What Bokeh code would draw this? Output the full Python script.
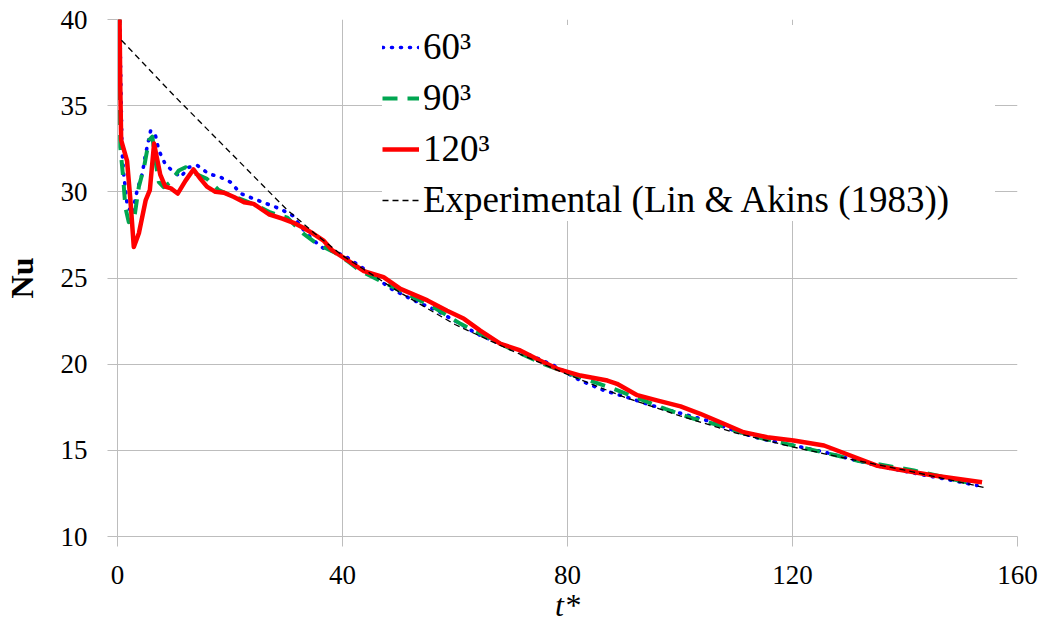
from bokeh.plotting import figure
from bokeh.models import Range1d, FixedTicker, Legend, LegendItem
from bokeh.embed import file_html
from bokeh.resources import INLINE

# ---- data ----
t_120 = [0.3, 0.5, 0.65, 1.7, 2.3, 2.9, 3.8, 5.0, 5.75, 6.5, 7.6, 8.5, 9.5, 10.7, 12.1, 13.5,
         14.75, 15.9, 17.4, 18.9, 20.7, 22.5, 24.2, 26.9, 29.3, 31.3, 33.1, 34.9, 36.7, 38.2,
         40.8, 43.8, 47.3, 50.3, 55.1, 58.6, 61.6, 64.5, 68.1, 71.6, 75.2, 78.2, 82.3, 87.1,
         88.8, 92.4, 95.9, 100.1, 103.6, 107.8, 111.3, 115.5, 120.2, 125.6, 130.3, 135.1,
         139.8, 145.1, 153.7]
nu_120 = [42.0, 36.0, 33.0, 31.8, 29.5, 26.8, 27.6, 29.5, 30.1, 32.8, 31.0, 30.3, 30.2, 29.9,
          30.65, 31.3, 30.75, 30.3, 30.0, 29.95, 29.7, 29.4, 29.3, 28.7, 28.45, 28.2, 27.9,
          27.55, 27.15, 26.6, 26.05, 25.4, 25.05, 24.37, 23.7, 23.1, 22.63, 21.95, 21.18,
          20.8, 20.2, 19.73, 19.34, 19.05, 18.86, 18.2, 17.9, 17.55, 17.12, 16.54, 16.05,
          15.76, 15.57, 15.28, 14.7, 14.1, 13.83, 13.54, 13.15]

t_60 = [0.3, 0.8, 1.1, 1.7, 2.6, 3.5, 4.4, 5.0, 5.9, 6.75, 7.35, 8.5, 9.7, 11.2, 12.7, 14.2,
        16.2, 18.3, 20.1, 21.9, 24.2, 26.6, 29.0, 31.1, 33.4, 34.9, 36.7, 38.5, 40.8, 44.4,
        48.5, 52.7, 56.8, 60.4, 63.9, 68.1, 72.8, 77.6, 82.3, 86.5, 90.6, 95.0, 99.5, 104.8,
        109.6, 114.3, 120.2, 125.6, 130.3, 136.2, 142.2, 146.9, 152.8]
nu_60 = [42.0, 32.4, 31.05, 29.3, 28.7, 30.1, 31.05, 32.2, 33.56, 33.27, 32.4, 31.6, 31.24,
         30.85, 31.43, 31.53, 31.05, 30.85, 30.56, 29.9, 29.6, 29.3, 29.0, 28.63, 27.66,
         27.17, 26.7, 26.55, 26.2, 25.4, 24.4, 23.7, 23.1, 22.44, 21.76, 21.18, 20.6, 19.92,
         19.05, 18.47, 18.08, 17.6, 17.2, 16.73, 16.15, 15.67, 15.28, 14.9, 14.5, 14.02,
         13.64, 13.35, 12.96]

t_90 = [0.3, 0.5, 1.0, 1.4, 2.0, 2.9, 3.8, 4.7, 5.6, 6.2, 6.75, 7.35, 8.2, 9.4, 10.9, 12.1,
        13.9, 15.9, 18.0, 20.1, 22.5, 24.8, 27.2, 30.2, 33.1, 35.5, 38.5, 40.8, 43.2, 48.5,
        56.2, 61.0, 65.7, 70.5, 75.8, 80.5, 88.2, 97.4, 102.5, 107.2, 112.5, 121.4, 127.9,
        131.5, 141.6, 152.2]
nu_90 = [42.0, 32.6, 30.85, 29.1, 28.24, 28.3, 30.3, 31.4, 33.0, 33.2, 31.8, 30.56, 30.27,
         30.56, 31.24, 31.43, 31.05, 30.75, 30.1, 29.8, 29.5, 29.2, 28.8, 28.5, 27.56, 26.98,
         26.5, 26.0, 25.4, 24.56, 23.3, 22.34, 21.56, 20.8, 20.0, 19.44, 18.57, 17.4, 16.83,
         16.44, 15.86, 15.18, 14.7, 14.4, 13.83, 13.06]

t_exp = [0.7, 10, 20, 30, 35, 40, 50, 60, 70, 80, 90, 100, 110, 120, 130, 140, 154]
nu_exp = [38.8, 35.6, 32.3, 29.0, 27.6, 26.3, 24.2, 22.3, 20.8, 19.4, 18.1, 17.0, 16.0, 15.2,
          14.5, 13.85, 12.85]

x_ticks = [0, 40, 80, 120, 160]
y_ticks = [10, 15, 20, 25, 30, 35, 40]
labels = ["60\u00b3", "90\u00b3", "120\u00b3", "Experimental (Lin & Akins (1983))"]

SERIF = "Liberation Serif"
GRID = "#bdbdbd"

p = figure(width=1046, height=642, output_backend="svg", toolbar_location=None,
           x_range=Range1d(0, 160), y_range=Range1d(10, 40),
           min_border_left=117, min_border_right=29, min_border_top=19,
           min_border_bottom=106)
p.outline_line_color = None
p.background_fill_color = "white"
p.border_fill_color = "white"

for ax, ticks in ((p.xaxis, x_ticks), (p.yaxis, y_ticks)):
    ax.ticker = FixedTicker(ticks=ticks)
    ax.axis_line_color = GRID
    ax.major_tick_line_color = GRID
    ax.major_tick_in = 0
    ax.major_tick_out = 10
    ax.minor_tick_line_color = None
    ax.major_label_text_font = SERIF
    ax.major_label_text_font_size = "27px"
    ax.major_label_text_color = "black"
    ax.axis_label_text_font = SERIF
    ax.axis_label_text_color = "black"

p.xaxis.major_label_standoff = 19
p.yaxis.major_label_standoff = 20
p.xaxis.axis_label = "t*"
p.xaxis.axis_label_text_font_style = "italic"
p.xaxis.axis_label_text_font_size = "32px"
p.xaxis.axis_label_standoff = 0
p.yaxis.axis_label = "Nu"
p.yaxis.axis_label_text_font_style = "bold"
p.yaxis.axis_label_text_font_size = "32px"
p.yaxis.axis_label_standoff = 18

p.xgrid.grid_line_color = GRID
p.ygrid.grid_line_color = GRID
p.xgrid.ticker = FixedTicker(ticks=x_ticks)
p.ygrid.ticker = FixedTicker(ticks=y_ticks)

r60 = p.line(t_60, nu_60, line_color="#0000ff", line_width=3.6, line_dash="1 8",
             line_cap="round", line_join="round")
r90 = p.line(t_90, nu_90, line_color="#00a651", line_width=4, line_dash="15 10",
             line_join="round")
r120 = p.line(t_120, nu_120, line_color="#ff0000", line_width=4.5, line_join="round")
rexp = p.line(t_exp, nu_exp, line_color="black", line_width=1.3, line_dash="6 4")

legend = Legend(items=[LegendItem(label=labels[0], renderers=[r60]),
                       LegendItem(label=labels[1], renderers=[r90]),
                       LegendItem(label=labels[2], renderers=[r120]),
                       LegendItem(label=labels[3], renderers=[rexp])],
                location=(265, 315), orientation="vertical")
legend.label_text_font = SERIF
legend.label_text_font_size = "37px"
legend.label_text_color = "black"
legend.glyph_width = 37
legend.glyph_height = 40
legend.label_height = 40
legend.label_width = 572
legend.label_standoff = 4
legend.spacing = 8
legend.padding = 2
legend.margin = 0
legend.border_line_color = None
legend.background_fill_color = "white"
legend.background_fill_alpha = 1.0
p.add_layout(legend)

open("out.html", "w").write(file_html(p, INLINE))
